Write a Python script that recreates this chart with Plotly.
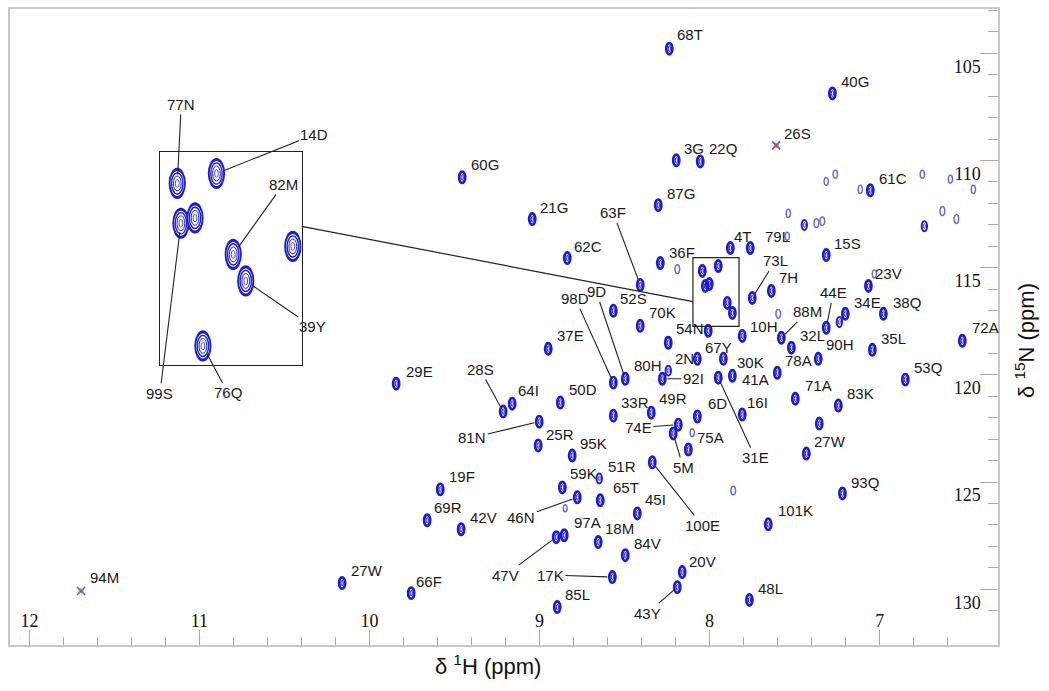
import plotly.graph_objects as go

# ---------------- data ----------------
# main spectrum peaks: 1H shift (ppm), 15N shift (ppm), relative intensity (negative = folded/negative peak)
PEAK_LABEL = ["68T", "40G", "26S", "60G", "3G", "22Q", "61C", "87G", "21G", "62C",
              "63F", "36F", "", "4T", "79L", "15S", "73L", "7H", "23V", "",
              "44E", "34E", "", "38Q", "88M", "10H", "32L", "90H", "78A", "35L",
              "72A", "53Q", "71A", "83K", "", "27W", "93Q", "101K", "48L", "20V",
              "43Y", "17K", "85L", "84V", "18M", "97A", "47V", "45I", "100E", "74E",
              "5M", "", "75A", "6D", "16I", "31E", "41A", "30K", "67Y", "54N",
              "", "2N", "80H", "92I", "49R", "33R", "70K", "52S", "37E", "50D",
              "29E", "28S", "64I", "81N", "25R", "95K", "59K", "46N", "", "51R",
              "65T", "19F", "69R", "42V", "27W", "66F", "94M", "98D", "9D", "",
              "", "", "", "", "", "",
              "", "", "", "", "", "", "", "", "", "", "", "", "", ""]
PEAK_H = [8.237, 7.278, 7.608, 9.455, 8.196, 8.055, 7.055, 8.302, 9.043, 8.837,
          8.408, 8.290, 8.190, 7.878, 7.761, 7.314, 7.749, 7.637, 7.066, 7.031,
          7.314, 7.202, 7.237, 6.978, 7.578, 7.596, 7.519, 7.361, 7.602, 7.043,
          6.514, 6.849, 7.496, 7.243, 7.355, 7.431, 7.219, 7.655, 7.766, 8.161,
          8.190, 8.572, 8.896, 8.496, 8.655, 8.855, 8.902, 8.425, 8.337, 8.184,
          8.214, 8.125, 8.102, 8.072, 7.808, 7.949, 7.866, 7.919, 8.072, 8.008,
          7.808, 8.243, 8.243, 8.278, 8.343, 8.566, 8.408, 8.566, 8.949, 8.878,
          9.843, 9.214, 9.161, 9.002, 9.008, 8.808, 8.866, 8.778, 8.849, 8.649,
          8.643, 9.584, 9.661, 9.461, 10.161, 9.755, 11.696, 8.566, 8.496, 7.861,
          8.043, 8.025, 8.002, 7.949, 7.896, 7.866,
          7.314, 7.261, 7.114, 6.749, 6.584, 6.449, 7.537, 7.443, 7.372, 7.337,
          7.543, 6.631, 6.549, 6.737]
PEAK_N = [104.78, 106.87, 109.29, 110.78, 109.99, 110.04, 111.39, 112.08, 112.73, 114.55,
          115.80, 114.78, 115.06, 114.08, 114.08, 114.41, 116.41, 116.08, 115.85, 115.29,
          117.80, 117.15, 117.53, 117.15, 118.27, 117.15, 118.73, 119.25, 119.90, 118.83,
          118.41, 120.22, 121.11, 121.43, 122.27, 123.67, 125.53, 126.97, 130.50, 129.20,
          129.90, 129.43, 130.83, 128.41, 127.80, 127.48, 127.57, 126.46, 124.08, 122.32,
          122.73, 123.48, 122.69, 121.94, 121.85, 120.13, 120.04, 119.25, 119.25, 117.94,
          118.18, 118.50, 119.80, 120.18, 121.76, 121.90, 117.71, 117.01, 118.78, 121.29,
          120.41, 121.71, 121.34, 122.18, 123.29, 123.76, 125.25, 125.71, 126.22, 124.83,
          125.85, 125.34, 126.78, 127.20, 129.71, 130.18, 130.08, 120.36, 120.18, 125.39,
          115.15, 115.85, 115.76, 114.92, 116.64, 117.11,
          110.97, 110.64, 111.34, 110.64, 110.87, 111.34, 112.46, 113.01, 112.92, 112.83,
          113.53, 112.36, 112.73, 113.06]
PEAK_I = [1, 1, -1, 1, 1, 1, 1, 1, 1, 1,
          1, 1, 0.5, 1, 1, 1, 1, 1, 1, 0.4,
          1, 1, 0.8, 1, 1, 0.5, 1, 1, 1, 1,
          1, 1, 1, 1, 1, 1, 1, 1, 1, 1,
          1, 1, 1, 1, 1, 1, 1, 1, 1, 1,
          1, 1, 0.4, 1, 1, 1, 1, 1, 1, 1,
          1, 1, 0.7, 1, 1, 1, 1, 1, 1, 1,
          1, 1, 1, 1, 1, 1, 1, 1, 0.3, 0.6,
          1, 1, 1, 1, 1, 1, -1, 1, 1, 0.5,
          1, 1, 1, 1, 1, 1,
          0.4, 0.4, 0.4, 0.4, 0.4, 0.4, 0.4, 0.8, 0.5, 0.5,
          0.4, 0.5, 0.5, 0.8]

# enlarged view (inset) of the boxed region
INSET_LABEL = ["77N", "99S", "", "14D", "82M", "39Y", "76Q", ""]
INSET_H = [8.065, 8.058, 8.031, 7.990, 7.958, 7.934, 8.016, 7.844]
INSET_N = [115.00, 115.60, 115.52, 114.85, 116.07, 116.47, 117.45, 115.95]
ZOOM_H = [8.098, 7.827]
ZOOM_N = [114.53, 117.74]

X_TICKS = [12, 11, 10, 9, 8, 7]
Y_TICKS = [105, 110, 115, 120, 125, 130]

# ---------------- label placement (pixel offsets from the peak) ----------------
LABEL_OFFSETS = [(21, -14), (23, -12), (21, -12), (23, -13), (18, -12), (23, -13), (23, -12), (23, -12), (22, -12), (21, -12),
                 (-27, -72), (22, -11), None, (13, -12), (27, -12), (21, -12), (23, -37), (17, -13), (20, -12), None,
                 (7, -35), (22, -11), None, (24, -11), (26, -26), (-14, 13), (21, -12), (22, -14), (21, -12), (21, -11),
                 (23, -13), (23, -12), (23, -13), (22, -12), None, (24, -12), (23, -11), (27, -14), (21, -11), (20, -11),
                 (-30, 26), (-62, -2), (20, -13), (22, -12), (21, -14), (23, -13), (-51, 38), (18, -14), (50, 63), (-40, 3),
                 (10, 34), None, (18, 5), (20, -13), (15, -12), (37, 80), (23, 4), (27, 4), (21, -11), (-18, -2),
                 None, (16, 16), (-20, -5), (31, 0), (22, -14), (22, -13), (22, -13), (20, -12), (22, -13), (23, -13),
                 (23, -12), (-23, -42), (16, -13), (-67, 16), (22, -11), (21, -12), (21, -14), (-56, 20), None, (23, -12),
                 (26, -13), (22, -13), (21, -13), (22, -12), (25, -13), (18, -12), (23, -13), (-38, -84), (-29, -87), None,
                 None, None, None, None, None, None,
                 None, None, None, None, None, None, None, None, None, None, None, None, None, None]
LEADERS = {"63F", "73L", "44E", "88M", "43Y", "17K", "47V", "100E", "74E", "5M", "31E",
           "28S", "81N", "46N", "98D", "9D", "92I"}
INSET_OFFSETS = [(4, -79), (-21, 170), None, (98, -39), (50, -70), (67, 46), (25, 47), None]

BLUE = "#1c1cd4"
FAINT = "#6a6ae6"
CROSS = "#5c5ad6"
LABEL_FONT = dict(family="Liberation Sans, Arial, sans-serif", size=15, color="#1a1a1a")
TICK_FONT = dict(family="Liberation Serif, Times New Roman, serif", size=18, color="#111111")

# plot frame in pixels
W, H = 1049, 691
ML, MR, MT, MB = 10, 51, 7, 46
XR = [12.114, 6.304]
YR = [132.6, 102.93]

fig = go.Figure()
shapes = []


def ellipse(x, y, rx, ry, xref, yref, color, width, fill=None):
    d = dict(type="circle", xref=xref, yref=yref, x0=x - rx, x1=x + rx, y0=y - ry, y1=y + ry,
             line=dict(color=color, width=width), layer="above")
    if fill:
        d["fillcolor"] = fill
    return d


RX, RY = 0.021, 0.31
for x, y, inten in zip(PEAK_H, PEAK_N, PEAK_I):
    if inten < 0:
        continue
    if inten >= 0.9:
        shapes.append(ellipse(x, y, RX * 0.85, RY * 0.85, "x", "y", BLUE, 2.7))
        shapes.append(ellipse(x, y, RX * 0.30, RY * 0.42, "x", "y", BLUE, 1.0))
    elif inten >= 0.6:
        shapes.append(ellipse(x, y, RX * 0.75, RY * 0.75, "x", "y", BLUE, 2.0))
        shapes.append(ellipse(x, y, RX * 0.26, RY * 0.35, "x", "y", BLUE, 0.8))
    else:
        s = 0.35 + 0.6 * inten
        shapes.append(ellipse(x, y, RX * s, RY * s, "x", "y", FAINT, 1.5))

# negative (folded) peaks drawn as crosses
neg_x = [x for x, i in zip(PEAK_H, PEAK_I) if i < 0]
neg_y = [y for y, i in zip(PEAK_N, PEAK_I) if i < 0]
fig.add_trace(go.Scatter(x=neg_x, y=neg_y, mode="markers", xaxis="x", yaxis="y",
                         marker=dict(symbol="x-thin", size=8, line=dict(color=CROSS, width=1.6)),
                         hoverinfo="skip"))
fig.add_trace(go.Scatter(x=neg_x, y=neg_y, mode="markers", xaxis="x", yaxis="y",
                         marker=dict(symbol="circle-open", size=4, line=dict(color=CROSS, width=1)),
                         hoverinfo="skip"))

# invisible hover layer
fig.add_trace(go.Scatter(x=PEAK_H, y=PEAK_N, mode="markers", text=PEAK_LABEL,
                         marker=dict(size=8, opacity=0), hovertemplate="%{text}<br>1H %{x}<br>15N %{y}<extra></extra>"))

# inset contours
IRX, IRY = 0.0165, 0.235
for x, y in zip(INSET_H, INSET_N):
    shapes.append(ellipse(x, y, IRX, IRY, "x2", "y2", BLUE, 0, fill=BLUE))
    shapes.append(ellipse(x, y, IRX * 0.78, IRY * 0.80, "x2", "y2", BLUE, 0, fill="#ffffff"))
    shapes.append(ellipse(x, y, IRX * 0.66, IRY * 0.68, "x2", "y2", BLUE, 1.4))
    shapes.append(ellipse(x, y, IRX * 0.45, IRY * 0.48, "x2", "y2", BLUE, 1.0))
    shapes.append(ellipse(x, y, IRX * 0.22, IRY * 0.25, "x2", "y2", BLUE, 0.8))
fig.add_trace(go.Scatter(x=INSET_H, y=INSET_N, xaxis="x2", yaxis="y2", mode="markers",
                         text=INSET_LABEL, marker=dict(size=8, opacity=0),
                         hovertemplate="%{text}<extra></extra>"))

# box marking the enlarged region
shapes.append(dict(type="rect", xref="x", yref="y", x0=ZOOM_H[0], x1=ZOOM_H[1], y0=ZOOM_N[0], y1=ZOOM_N[1],
                   line=dict(color="#222222", width=1.2), layer="above"))

# inset domain (paper)
pw, ph = W - ML - MR, H - MT - MB
INSET_DX = [(160 - ML) / pw, (301.7 - ML) / pw]
INSET_DY = [(H - MB - 364.3) / ph, (H - MB - 150.7) / ph]

# connector from inset to box (in main-axis coordinates)
cx0 = XR[0] + INSET_DX[1] * (XR[1] - XR[0])
cy0 = YR[0] + ((H - MB - 225) / ph) * (YR[1] - YR[0])
shapes.append(dict(type="line", xref="x", yref="y", x0=cx0, y0=cy0, x1=ZOOM_H[0], y1=116.58,
                   line=dict(color="#222222", width=1.2), layer="above"))

annotations = []
for lab, x, y, off in zip(PEAK_LABEL, PEAK_H, PEAK_N, LABEL_OFFSETS):
    if not lab or off is None:
        continue
    dx, dy = off
    if lab in LEADERS:
        annotations.append(dict(x=x, y=y, xref="x", yref="y", text=lab, showarrow=True, ax=dx, ay=dy,
                                arrowhead=0, arrowwidth=1.1, arrowcolor="#222222", standoff=5,
                                font=LABEL_FONT))
    else:
        annotations.append(dict(x=x, y=y, xref="x", yref="y", text=lab, showarrow=False,
                                xshift=dx, yshift=-dy, font=LABEL_FONT))
for lab, x, y, off in zip(INSET_LABEL, INSET_H, INSET_N, INSET_OFFSETS):
    if not lab or off is None:
        continue
    annotations.append(dict(x=x, y=y, xref="x2", yref="y2", text=lab, showarrow=True, ax=off[0], ay=off[1],
                            arrowhead=0, arrowwidth=1.1, arrowcolor="#222222", standoff=9, font=LABEL_FONT))

annotations.append(dict(text="δ <sup>1</sup>H (ppm)", xref="paper", yref="paper", x=(488 - ML) / pw,
                        y=(H - MB - 665) / ph, showarrow=False, xanchor="center", yanchor="middle",
                        font=dict(family="Liberation Sans, Arial, sans-serif", size=22, color="#111111")))
annotations.append(dict(text="δ <sup>15</sup>N (ppm)", xref="paper", yref="paper", x=(1025 - ML) / pw,
                        y=(H - MB - 340) / ph, showarrow=False, xanchor="center", yanchor="middle",
                        textangle=-90,
                        font=dict(family="Liberation Sans, Arial, sans-serif", size=22, color="#111111")))

fig.update_layout(
    width=W, height=H, margin=dict(l=ML, r=MR, t=MT, b=MB),
    plot_bgcolor="white", paper_bgcolor="white", showlegend=False,
    shapes=shapes, annotations=annotations,
    xaxis=dict(range=XR, tickmode="array", tickvals=X_TICKS, ticktext=[str(v) for v in X_TICKS],
               ticks="inside", ticklen=15, tickwidth=1, tickcolor="#a8a8a8",
               ticklabelposition="inside", tickfont=TICK_FONT,
               minor=dict(tickmode="linear", tick0=0, dtick=0.2, ticks="inside", ticklen=8,
                          tickcolor="#a8a8a8", showgrid=False),
               showline=True, linecolor="#c8c8c8", linewidth=1.5, mirror=True,
               showgrid=False, zeroline=False),
    yaxis=dict(range=YR, side="right", tickmode="array", tickvals=Y_TICKS, ticktext=[str(v) for v in Y_TICKS],
               ticks="inside", ticklen=18, tickwidth=1, tickcolor="#a8a8a8",
               ticklabelposition="inside", tickfont=TICK_FONT, ticklabelshift=-13,
               minor=dict(tickmode="linear", tick0=0, dtick=1, ticks="inside", ticklen=10,
                          tickcolor="#a8a8a8", showgrid=False),
               showline=True, linecolor="#c8c8c8", linewidth=1.5, mirror=True,
               showgrid=False, zeroline=False),
    xaxis2=dict(domain=INSET_DX, range=ZOOM_H, anchor="y2", showticklabels=False, ticks="",
                showline=True, linecolor="#222222", linewidth=1.2, mirror=True,
                showgrid=False, zeroline=False),
    yaxis2=dict(domain=INSET_DY, range=[ZOOM_N[1], ZOOM_N[0]], anchor="x2", showticklabels=False, ticks="",
                showline=True, linecolor="#222222", linewidth=1.2, mirror=True,
                showgrid=False, zeroline=False),
)

fig.write_html("out.html")
